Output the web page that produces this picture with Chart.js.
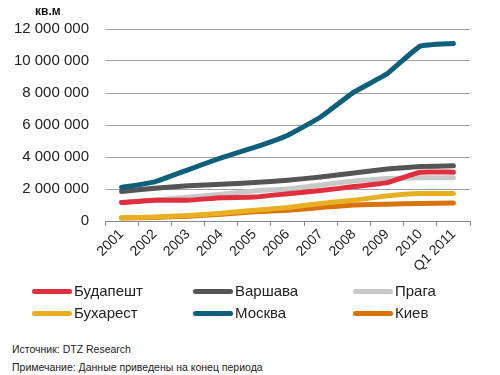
<!DOCTYPE html>
<html><head><meta charset="utf-8">
<script src="https://cdn.jsdelivr.net/npm/chart.js@4/dist/chart.umd.min.js"></script>
<style>
html,body{margin:0;padding:0;background:#fff;}
body{width:500px;height:375px;position:relative;overflow:hidden;font-family:"Liberation Sans",Arial,sans-serif;color:#222;}
#wrap{position:absolute;left:0;top:0;width:500px;height:285px;}
#unit{position:absolute;left:35px;top:4px;font-size:12px;font-weight:bold;color:#111;}
.leg{position:absolute;font-size:15px;color:#222;line-height:16px;}
.sw{position:absolute;width:40px;height:5px;border-radius:3px;}
.note{position:absolute;left:12px;font-size:10.5px;color:#222;}
</style></head><body>
<div id="wrap"><canvas id="c"></canvas></div>
<div id="unit">кв.м</div>
<div id="legend"></div>
<div class="note" style="top:343px">Источник: DTZ Research</div>
<div class="note" style="top:361px">Примечание: Данные приведены на конец периода</div>
<script>
const categories = ["2001","2002","2003","2004","2005","2006","2007","2008","2009","2010","Q1 2011"];
const seriesNames = ["Будапешт","Варшава","Прага","Бухарест","Москва","Киев"];
const budapest  = [1150000,1300000,1300000,1450000,1500000,1700000,1900000,2150000,2400000,3050000,3050000];
const warsaw    = [1850000,2050000,2200000,2300000,2400000,2550000,2750000,3000000,3250000,3400000,3450000];
const prague    = [1180000,1320000,1480000,1680000,1880000,2000000,2250000,2500000,2650000,2700000,2700000];
const bucharest = [200000,250000,350000,480000,670000,840000,1100000,1300000,1570000,1720000,1720000];
const moscow    = [2100000,2450000,3200000,3950000,4600000,5350000,6500000,8050000,9200000,10930000,11100000];
const kiev      = [180000,220000,300000,420000,580000,670000,840000,1000000,1050000,1100000,1120000];
const yTicks = [0,2000000,4000000,6000000,8000000,10000000,12000000];
const colors = ["#e0303f","#555555","#c8c8c8","#e8b020","#0e5f7a","#d8730c"];
const values = [budapest,warsaw,prague,bucharest,moscow,kiev];

// legend
const legendPos = [[32,283],[193,283],[353,283],[32,305],[193,305],[353,305]];
const lg = document.getElementById('legend');
seriesNames.forEach((n,i)=>{
  const sw=document.createElement('div');sw.className='sw';
  sw.style.left=legendPos[i][0]+'px';sw.style.top=(legendPos[i][1]+6)+'px';sw.style.background=colors[i];
  lg.appendChild(sw);
  const t=document.createElement('div');t.className='leg';t.textContent=n;
  t.style.left=(legendPos[i][0]+42)+'px';t.style.top=(legendPos[i][1])+'px';
  lg.appendChild(t);
});

const fmt = v => String(v).replace(/\B(?=(\d{3})+(?!\d))/g,' ');
new Chart(document.getElementById('c'),{
  type:'line',
  data:{labels:categories,datasets:values.map((d,i)=>({
    label:seriesNames[i],data:d,borderColor:colors[i],backgroundColor:colors[i],
    borderWidth:5,pointRadius:0,tension:0.12,borderCapStyle:'round',borderJoinStyle:'round',fill:false,
    order: i===4?0:(i===0?1:i+1)
  }))},
  options:{
    responsive:true,maintainAspectRatio:false,animation:false,
    layout:{padding:{left:0,right:30,top:29,bottom:0}},
    plugins:{legend:{display:false},tooltip:{enabled:false}},
    scales:{
      x:{offset:true,
        grid:{drawOnChartArea:false,drawTicks:true,tickLength:5,color:'#888',offset:true},
        border:{display:true,color:'#888',width:1},
        ticks:{minRotation:45,maxRotation:45,color:'#222',font:{family:'Liberation Sans',size:14},padding:0,autoSkip:false},
        afterFit:s=>{s.height=64;}
      },
      y:{min:0,max:12000000,
        afterBuildTicks:s=>{s.ticks=yTicks.map(v=>({value:v}));},
        grid:{color:'#a0a0a0',lineWidth:1,drawTicks:false},
        border:{display:false},
        ticks:{color:'#222',font:{family:'Liberation Sans',size:15},padding:16,callback:v=>fmt(v)},
        afterFit:s=>{s.width=105;}
      }
    }
  }
});
</script>
</body></html>
